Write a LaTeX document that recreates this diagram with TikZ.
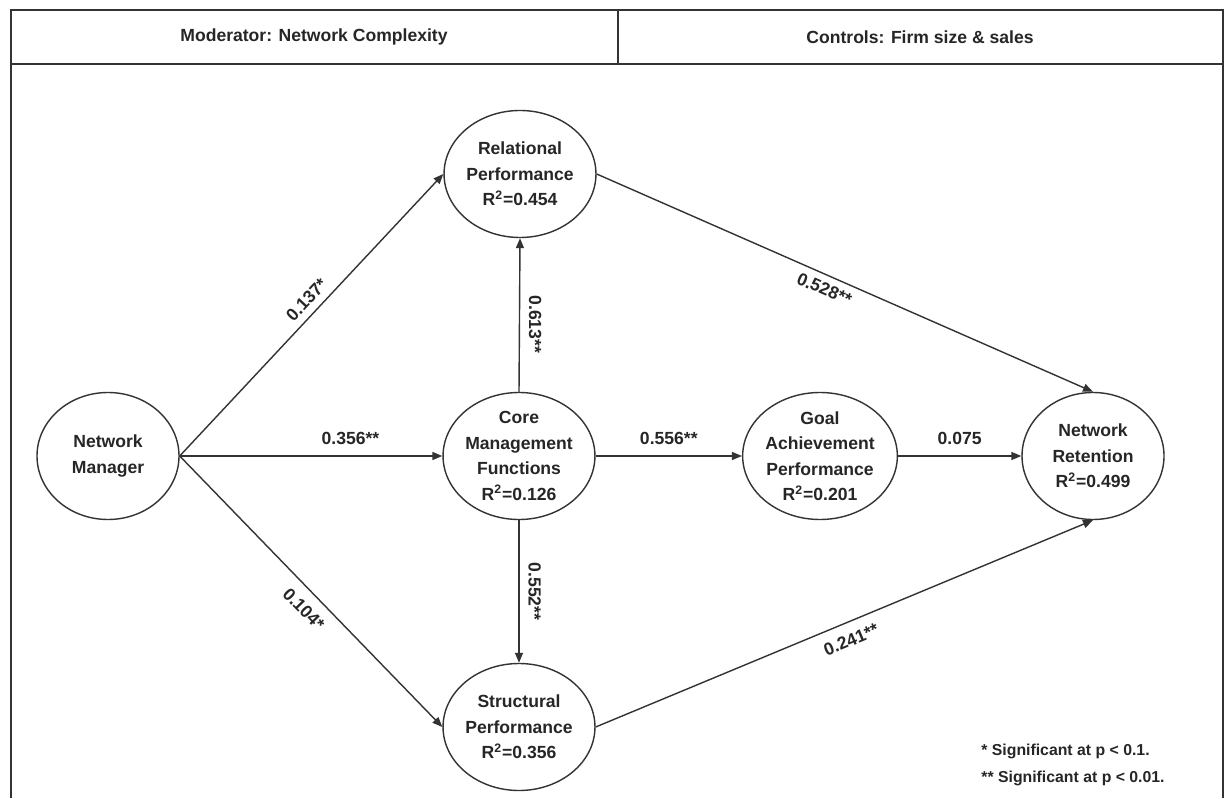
\documentclass[tikz,border=0pt]{standalone}
\usepackage{fontspec}
\setmainfont{Liberation Sans}
\usepackage{xcolor}
\usepackage{tikz}
\usetikzlibrary{arrows.meta,shapes.geometric}
\definecolor{pathInk}{HTML}{262626}
\definecolor{pathLine}{HTML}{333333}
\tikzset{
  path arrow/.style={-{Triangle[length=2mm,width=1.6mm]}, line width=0.8pt,
    draw=pathLine},
  construct/.style={ellipse, draw=pathLine, line width=0.8pt, fill=white,
    minimum width=2.84cm, minimum height=2.54cm, inner sep=0pt,
    align=center, text=pathInk,
    font=\fontsize{10}{14.5}\selectfont\bfseries},
  coef/.style={font=\fontsize{10}{12}\selectfont\bfseries, text=pathInk,
    inner sep=3pt},
  head label/.style={font=\fontsize{10}{12}\selectfont\bfseries,
    text=pathInk},
  foot note/.style={font=\fontsize{9}{11}\selectfont\bfseries,
    text=pathInk, inner sep=0pt},
  frame line/.style={draw=pathLine, line width=1pt}
}

\begin{document}
\begin{tikzpicture}
  \useasboundingbox (0,0) rectangle (24.52,15.96);
  % frame and header
  \draw[frame line] (0.22,0) -- (0.22,15.76) -- (24.46,15.76) -- (24.46,0);
  \draw[frame line] (0.22,14.68) -- (24.46,14.68);
  \draw[frame line] (12.36,15.76) -- (12.36,14.68);
  \node[head label] (modhead) at (6.28,15.22) {Moderator: Network Complexity};
  \node[head label] (ctrlhead) at (18.40,15.22) {Controls: Firm size \& sales};

  % constructs
  \node[construct] (nm) at (2.16,6.84) {Network\\Manager};
  \node[construct] (rel) at (10.40,12.48)
    {Relational\\Performance\\R\textsuperscript{2}=0.454};
  \node[construct] (core) at (10.38,6.84)
    {Core\\Management\\Functions\\R\textsuperscript{2}=0.126};
  \node[construct] (str) at (10.38,1.42)
    {Structural\\Performance\\R\textsuperscript{2}=0.356};
  \node[construct] (goal) at (16.40,6.84)
    {Goal\\Achievement\\Performance\\R\textsuperscript{2}=0.201};
  \node[construct] (ret) at (21.86,6.84)
    {Network\\Retention\\R\textsuperscript{2}=0.499};

  % paths
  \draw[path arrow] (nm.east) -- (rel.west)
    node[coef, pos=0.52, above=1pt, sloped] {0.137*};
  \draw[path arrow] (nm.east) -- (core.west)
    node[coef, pos=0.65, above=3pt] {0.356**};
  \draw[path arrow] (nm.east) -- (str.west)
    node[coef, pos=0.52, below=3pt, sloped] {0.104*};
  \draw[path arrow] (core.north) -- (rel.south)
    node[coef, pos=0.44, anchor=south, rotate=-90, inner sep=5pt] {0.613**};
  \draw[path arrow] (core.south) -- (str.north)
    node[coef, midway, anchor=south, rotate=-90, inner sep=5pt] {0.552**};
  \draw[path arrow] (core.east) -- (goal.west)
    node[coef, midway, above=3pt] {0.556**};
  \draw[path arrow] (goal.east) -- (ret.west)
    node[coef, midway, above=3pt] {0.075};
  \draw[path arrow] (rel.east) -- (ret.north)
    node[coef, pos=0.47, below=1pt, sloped] {0.528**};
  \draw[path arrow] (str.east) -- (ret.south)
    node[coef, midway, below=3pt, sloped] {0.241**};

  \node[foot note, anchor=west] (sigone) at (19.62,0.94)
    {* Significant at p < 0.1.};
  \node[foot note, anchor=west] (sigtwo) at (19.62,0.40)
    {** Significant at p < 0.01.};
\end{tikzpicture}
\end{document}
